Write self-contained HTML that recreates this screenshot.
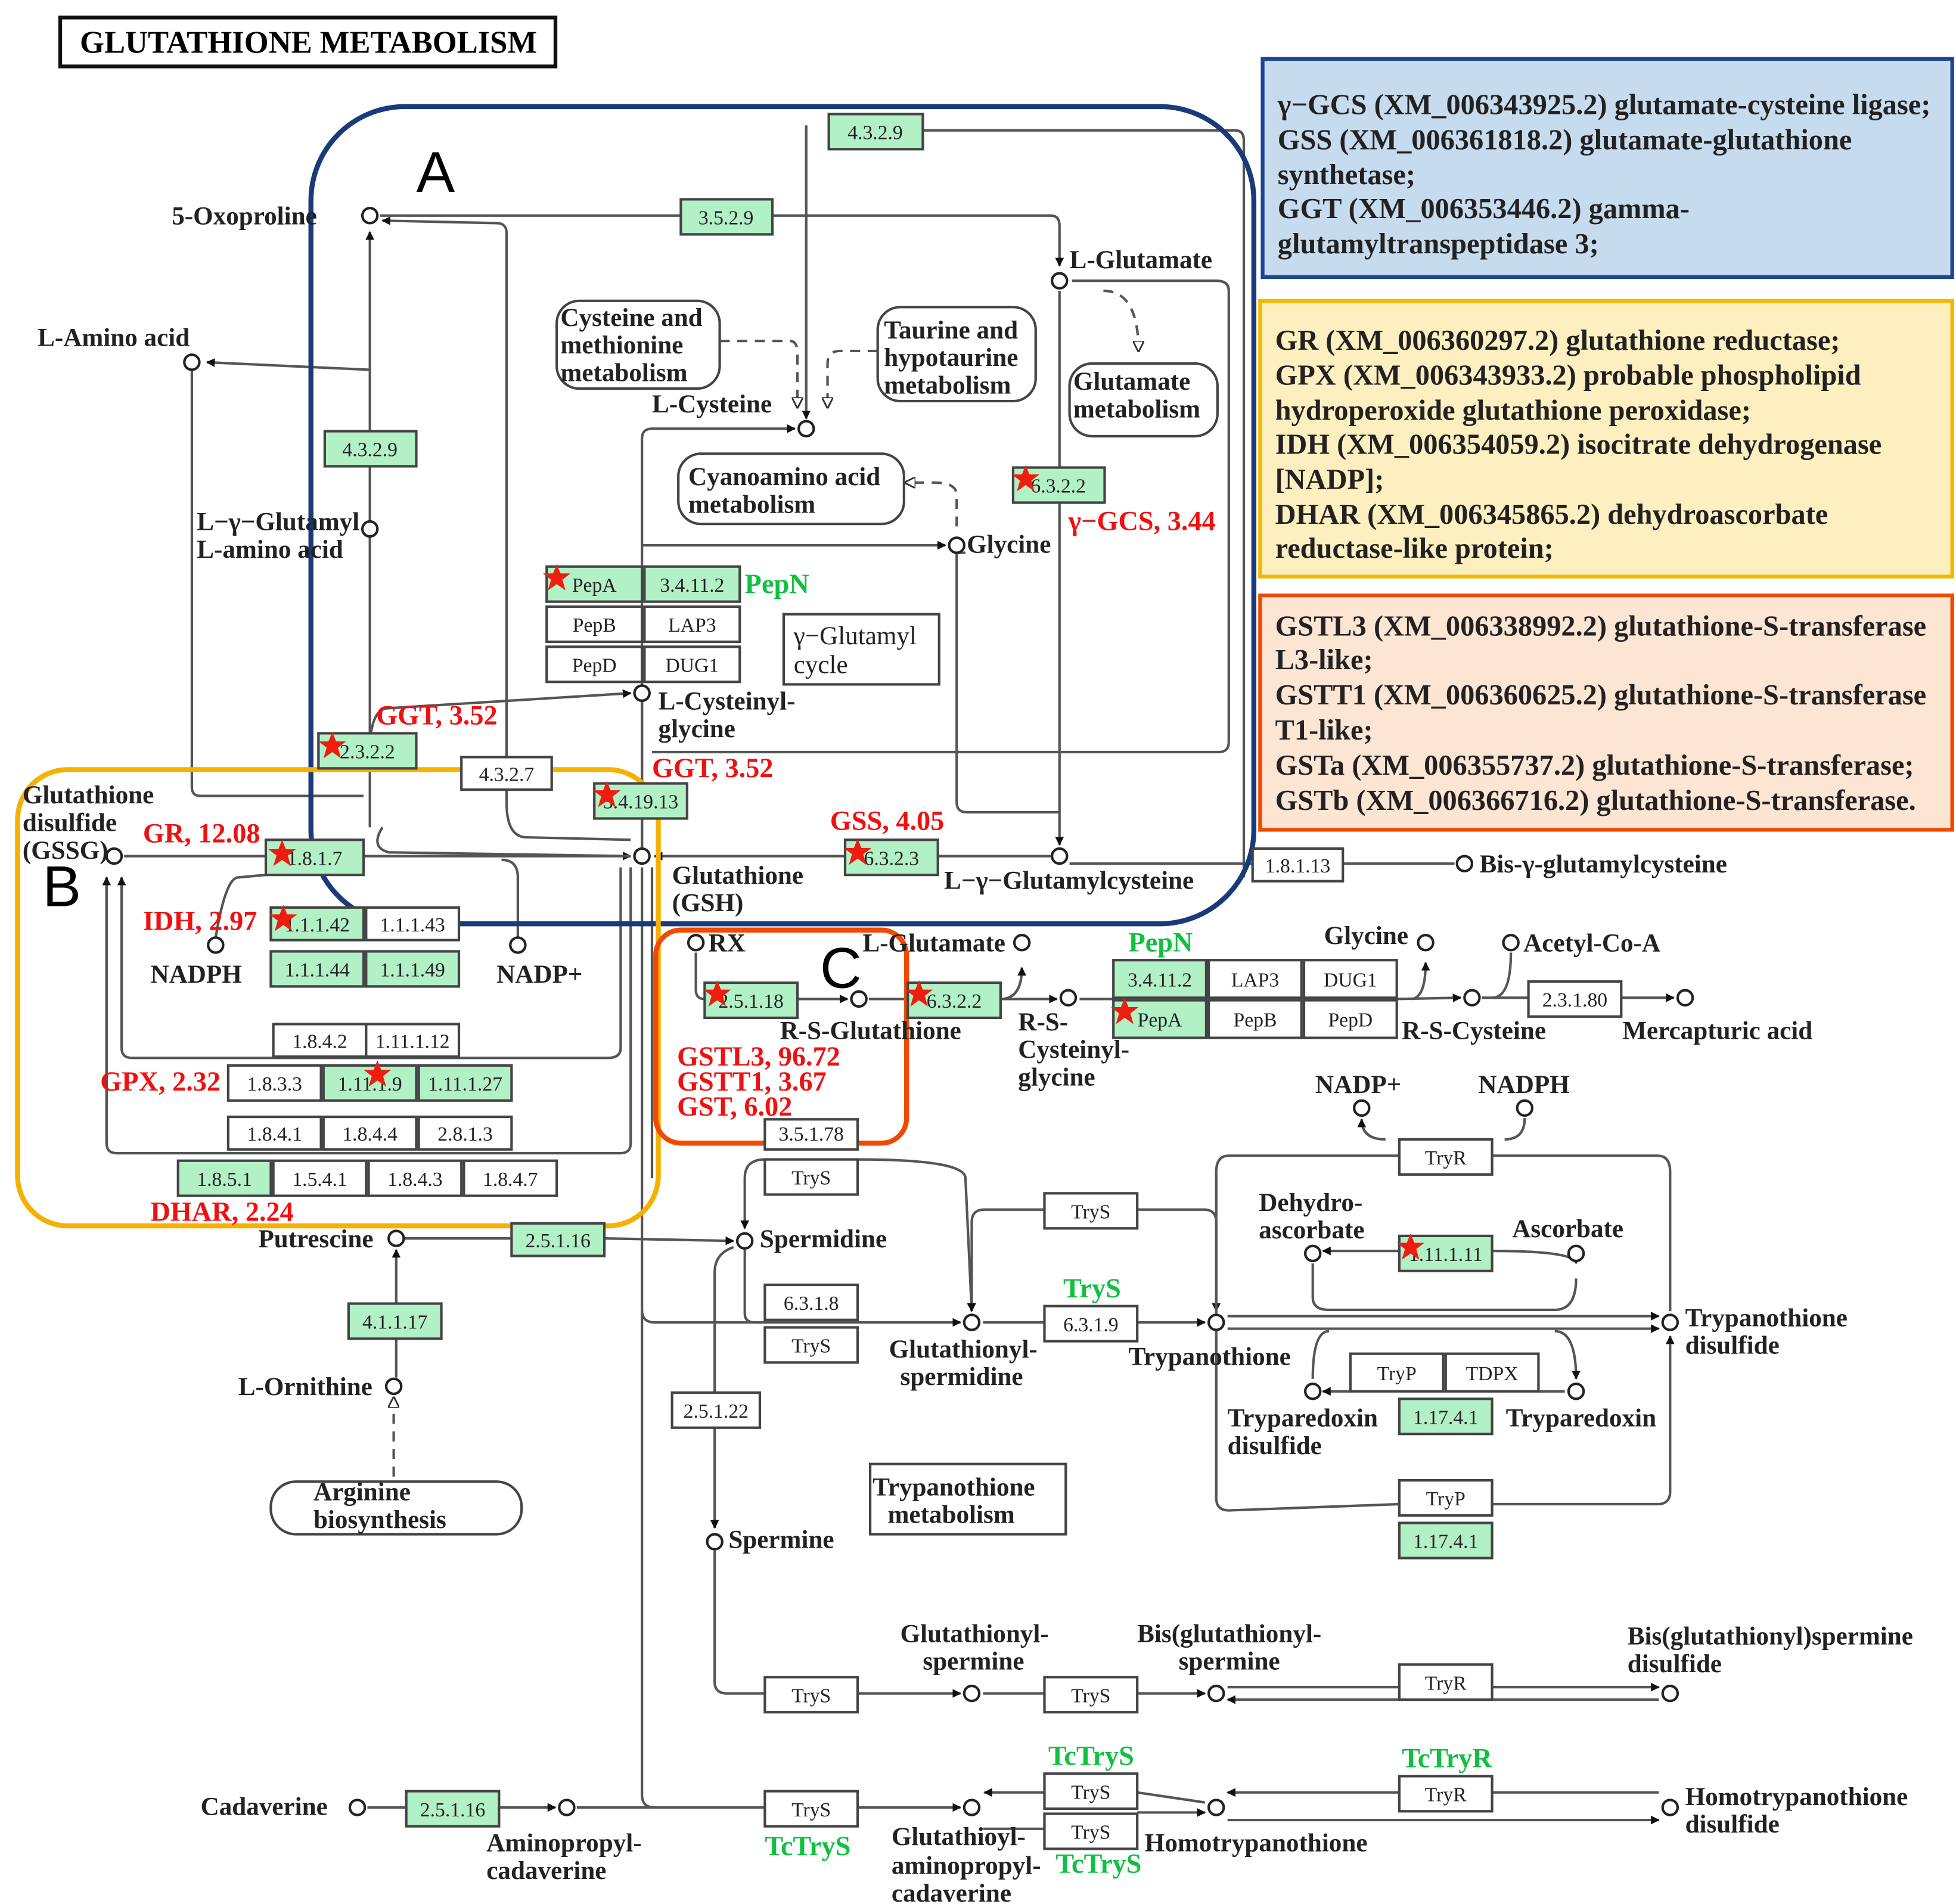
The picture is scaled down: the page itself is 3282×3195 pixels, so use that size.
<!DOCTYPE html>
<html><head><meta charset="utf-8"><style>
html,body{margin:0;padding:0;background:#fff}
svg{display:block}
text{font-family:"Liberation Serif",serif}
.c{font-weight:bold;font-size:20.5px;fill:#222}
.e{font-size:16px;fill:#222;text-anchor:middle}
.r{font-weight:bold;font-size:22px;fill:#f01010}
.g{font-weight:bold;font-size:22px;fill:#10c040}
.i{font-weight:bold;font-size:23px;fill:#222}
.l{fill:none;stroke:#555;stroke-width:2}
.d{fill:none;stroke:#555;stroke-width:2;stroke-dasharray:8 6}
</style></head><body>
<svg width="3282" height="3195" viewBox="0 0 1560 1519" preserveAspectRatio="none" xmlns="http://www.w3.org/2000/svg">
<defs>
<marker id="a" viewBox="0 0 10 10" refX="9" refY="5" markerWidth="7" markerHeight="7" orient="auto" markerUnits="userSpaceOnUse"><path d="M0,0 L10,5 L0,10z" fill="#111"/></marker>
<marker id="o" viewBox="0 0 10 10" refX="9" refY="5" markerWidth="9" markerHeight="9" orient="auto" markerUnits="userSpaceOnUse"><path d="M0,0 L10,5 L0,10z" fill="#fff" stroke="#333" stroke-width="1.5"/></marker>
<path id="st" d="M0,-11 L3,-3.5 L11,-3.5 L4.5,1.5 L7,10 L0,5 L-7,10 L-4.5,1.5 L-11,-3.5 L-3,-3.5z" fill="#f01c10"/>
</defs>
<rect width="1560" height="1519" fill="#fff"/>

<rect x="48" y="14" width="395" height="39" fill="#fff" stroke="#111" stroke-width="3"/>
<text x="246" y="42" text-anchor="middle" style="font-weight:bold;font-size:25px">GLUTATHIONE METABOLISM</text>

<rect x="1007" y="47" width="550" height="174" fill="#c7dbef" stroke="#1f4590" stroke-width="3"/>
<g class="i"><text x="1019" y="91">γ−GCS (XM_006343925.2) glutamate-cysteine ligase;</text>
<text x="1019" y="119">GSS (XM_006361818.2) glutamate-glutathione</text>
<text x="1019" y="147">synthetase;</text>
<text x="1019" y="174">GGT (XM_006353446.2) gamma-</text>
<text x="1019" y="202">glutamyltranspeptidase 3;</text></g>
<rect x="1005" y="240" width="552" height="220" fill="#fdefbf" stroke="#f5b800" stroke-width="3"/>
<g class="i"><text x="1017" y="279">GR (XM_006360297.2) glutathione reductase;</text>
<text x="1017" y="307">GPX (XM_006343933.2) probable phospholipid</text>
<text x="1017" y="335">hydroperoxide glutathione peroxidase;</text>
<text x="1017" y="362">IDH (XM_006354059.2) isocitrate dehydrogenase</text>
<text x="1017" y="390">[NADP];</text>
<text x="1017" y="418">DHAR (XM_006345865.2) dehydroascorbate</text>
<text x="1017" y="445">reductase-like protein;</text></g>
<rect x="1005" y="475" width="552" height="187" fill="#fde5d3" stroke="#f04a00" stroke-width="3"/>
<g class="i"><text x="1017" y="507">GSTL3 (XM_006338992.2) glutathione-S-transferase</text>
<text x="1017" y="534">L3-like;</text>
<text x="1017" y="562">GSTT1 (XM_006360625.2) glutathione-S-transferase</text>
<text x="1017" y="590">T1-like;</text>
<text x="1017" y="618">GSTa (XM_006355737.2) glutathione-S-transferase;</text>
<text x="1017" y="646">GSTb (XM_006366716.2) glutathione-S-transferase.</text></g>

<g class="l">
<path d="M404,640 L404,186 Q404,178 396,178 L305,176" marker-end="url(#a)"/>
<path d="M303,172 L838,172 Q845,172 845,180 L845,212" marker-end="url(#a)"/>
<path d="M643,100 L643,334" marker-end="url(#a)"/>
<path d="M736,104 L985,104 Q992,104 992,112 L992,700"/>
<path d="M295,660 L295,185" marker-end="url(#a)"/>
<path d="M295,295 L165,289" marker-end="url(#a)"/>
<path d="M153,296 L153,628 Q153,635 160,635 L290,635"/>
<path d="M512,676 L512,350 Q512,342 520,342 L634,342" marker-end="url(#a)"/>
<path d="M512,435 L754,435" marker-end="url(#a)"/>
<path d="M845,232 L845,674" marker-end="url(#a)"/>
<path d="M770,441 L763,441 L763,640 Q763,648 771,648 L845,648"/>
<path d="M855,224 L970,224 Q980,224 980,232 L980,592 Q980,600 972,600 L520,600"/>
<path d="M295,600 Q295,565 310,565 L503,553" marker-end="url(#a)"/>
<path d="M512,560 L512,676"/>
<path d="M305,660 Q295,676 310,680 L503,683" marker-end="url(#a)"/>
<path d="M404,640 Q404,668 420,668 L503,670"/>
<path d="M838,683 L522,683" marker-end="url(#a)"/>
<path d="M999,689 L853,689"/>
<path d="M1071,689 L1160,689"/>
<path d="M99,683 L503,683"/>
<path d="M172,748 Q180,700 190,700 L212,698"/>
<path d="M413,748 L413,700 Q413,686 400,686"/>
<path d="M85,700 L85,912 Q85,920 93,920 L495,920 Q503,920 503,912 L503,692"/>
<path d="M97,700 L97,836 Q97,844 105,844 L485,844 Q495,844 495,836 L495,692"/>
<path d="M85,912 L85,700" marker-end="url(#a)"/>
<path d="M97,836 L97,700" marker-end="url(#a)"/>
<path d="M512,692 L512,1432 Q512,1442 522,1442 L610,1442"/>
<path d="M512,1045 Q512,1055 522,1055 L766,1055" marker-end="url(#a)"/>
<path d="M520,692 L520,940"/>
<path d="M555,760 L555,790 Q555,797 562,797 L676,797" marker-end="url(#a)"/>
<path d="M693,797 L843,797" marker-end="url(#a)"/>
<path d="M798,797 Q815,797 815,772" marker-end="url(#a)"/>
<path d="M861,797 L888,797"/>
<path d="M1114,797 L1165,796" marker-end="url(#a)"/>
<path d="M1125,797 Q1137,797 1137,768" marker-end="url(#a)"/>
<path d="M1182,796 L1219,796 M1293,796 L1335,796" marker-end="url(#a)"/>
<path d="M1190,796 Q1205,796 1205,760"/>
<path d="M323,988 L408,988 M482,988 L585,990" marker-end="url(#a)"/>
<path d="M316,1099 L316,1068 M316,1040 L316,997" marker-end="url(#a)"/>
<path d="M314,1178 L314,1115" class="d" marker-end="url(#o)"/>
<path d="M610,925 Q594,925 594,940 L594,980" marker-end="url(#a)"/>
<path d="M684,925 Q770,925 770,940 L775,1046" marker-end="url(#a)"/>
<path d="M594,997 L594,1048 Q594,1055 602,1055 L610,1055"/>
<path d="M585,995 Q570,1000 570,1015 L570,1219" marker-end="url(#a)"/>
<path d="M570,1237 L570,1342 Q570,1351 580,1351 L610,1351"/>
<path d="M684,1351 L766,1351" marker-end="url(#a)"/>
<path d="M784,1351 L833,1351 M907,1351 L961,1351" marker-end="url(#a)"/>
<path d="M784,1055 L833,1055 M907,1055 L961,1055" marker-end="url(#a)"/>
<path d="M833,965 L785,965 Q775,965 775,975 L775,1046" marker-end="url(#a)"/>
<path d="M907,965 L960,965 Q970,965 970,975 L970,1046" marker-end="url(#a)"/>
<path d="M979,1050 L1323,1050" marker-end="url(#a)"/>
<path d="M979,1060 L1323,1060" marker-end="url(#a)"/>
<path d="M1116,922 L980,922 Q970,922 970,935 L970,1195 Q970,1205 980,1205 L1116,1200"/>
<path d="M1190,922 L1322,922 Q1332,922 1332,935 L1332,1046"/>
<path d="M1190,1200 L1322,1200 Q1332,1200 1332,1190 L1332,1066" marker-end="url(#a)"/>
<path d="M1105,909 Q1086,909 1086,893" marker-end="url(#a)"/>
<path d="M1200,909 Q1216,909 1216,892"/>
<path d="M1116,998 L1055,998" marker-end="url(#a)"/>
<path d="M1190,998 Q1257,998 1257,1008" marker-end="url(#a)"/>
<path d="M1047,1008 L1047,1035 Q1047,1045 1060,1045 L1240,1045 Q1257,1045 1257,1020"/>
<path d="M1077,1110 L1055,1110" marker-end="url(#a)"/>
<path d="M1227,1110 L1248,1110"/>
<path d="M1240,1062 Q1257,1062 1257,1100" marker-end="url(#a)"/>
<path d="M1060,1062 Q1047,1062 1047,1100"/>
<path d="M979,1346 L1323,1346" marker-end="url(#a)"/>
<path d="M1323,1356 L979,1356" marker-end="url(#a)"/>
<path d="M293,1442 L324,1442 M398,1442 L443,1442" marker-end="url(#a)"/>
<path d="M460,1442 L520,1442"/>
<path d="M684,1442 L766,1442" marker-end="url(#a)"/>
<path d="M833,1430 L785,1430" marker-end="url(#a)"/>
<path d="M784,1459 L833,1459 M907,1446 L961,1446" marker-end="url(#a)"/>
<path d="M907,1430 L961,1438"/>
<path d="M1323,1430 L979,1430" marker-end="url(#a)"/>
<path d="M979,1452 L1323,1452" marker-end="url(#a)"/>
</g>
<g class="d">
<path d="M574,272 L630,272 Q636,272 636,282 L636,325" marker-end="url(#o)"/>
<path d="M700,280 L670,280 Q660,280 660,290 L660,325" marker-end="url(#o)"/>
<path d="M880,232 Q908,232 908,280" marker-end="url(#o)"/>
<path d="M763,420 L763,395 Q763,385 745,385 L722,385" marker-end="url(#o)"/>
</g>

<rect x="248" y="85" width="752" height="652" rx="75" fill="none" stroke="#1a3a7a" stroke-width="4"/>
<rect x="14" y="614" width="511" height="364" rx="40" fill="none" stroke="#f5b000" stroke-width="4"/>
<rect x="523" y="742" width="200" height="170" rx="20" fill="none" stroke="#f04a00" stroke-width="4"/>
<text x="332" y="153" style="font-family:'Liberation Sans',sans-serif;font-size:46px">A</text>
<text x="34" y="723" style="font-family:'Liberation Sans',sans-serif;font-size:46px">B</text>
<text x="654" y="788" style="font-family:'Liberation Sans',sans-serif;font-size:46px">C</text>

<g fill="#fff" stroke="#444" stroke-width="2">
<rect x="444" y="240" width="130" height="70" rx="18"/>
<rect x="700" y="245" width="126" height="75" rx="18"/>
<rect x="853" y="290" width="118" height="58" rx="18"/>
<rect x="541" y="362" width="180" height="56" rx="18"/>
<rect x="625" y="490" width="124" height="56"/>
<rect x="216" y="1182" width="200" height="42" rx="20"/>
<rect x="694" y="1168" width="156" height="56"/>
</g>
<g class="c">
<text x="447" y="260">Cysteine and</text><text x="447" y="282">methionine</text><text x="447" y="304">metabolism</text>
<text x="705" y="270">Taurine and</text><text x="705" y="292">hypotaurine</text><text x="705" y="314">metabolism</text>
<text x="856" y="311">Glutamate</text><text x="856" y="333">metabolism</text>
<text x="549" y="387">Cyanoamino acid</text><text x="549" y="409">metabolism</text>
<text x="633" y="514" style="font-weight:normal">γ−Glutamyl</text><text x="633" y="537" style="font-weight:normal">cycle</text>
<text x="250" y="1197">Arginine</text><text x="250" y="1219">biosynthesis</text>
<text x="696" y="1193">Trypanothione</text><text x="708" y="1215">metabolism</text>
</g>

<g stroke="#444" stroke-width="2">
<rect x="661" y="91" width="75" height="28" fill="#b2f0c6"/>
<rect x="543" y="159" width="73" height="28" fill="#b2f0c6"/>
<rect x="259" y="344" width="73" height="28" fill="#b2f0c6"/>
<rect x="808" y="373" width="73" height="28" fill="#b2f0c6"/>
<rect x="436" y="452" width="76" height="28" fill="#b2f0c6"/>
<rect x="514" y="452" width="76" height="28" fill="#b2f0c6"/>
<rect x="436" y="484" width="76" height="28" fill="#fff"/>
<rect x="514" y="484" width="76" height="28" fill="#fff"/>
<rect x="436" y="516" width="76" height="28" fill="#fff"/>
<rect x="514" y="516" width="76" height="28" fill="#fff"/>
<rect x="254" y="585" width="78" height="28" fill="#b2f0c6"/>
<rect x="368" y="604" width="72" height="26" fill="#fff"/>
<rect x="474" y="625" width="74" height="28" fill="#b2f0c6"/>
<rect x="674" y="670" width="74" height="28" fill="#b2f0c6"/>
<rect x="999" y="677" width="72" height="26" fill="#fff"/>
<rect x="212" y="670" width="78" height="28" fill="#b2f0c6"/>
<rect x="216" y="724" width="74" height="26" fill="#b2f0c6"/>
<rect x="292" y="724" width="74" height="26" fill="#fff"/>
<rect x="216" y="759" width="74" height="28" fill="#b2f0c6"/>
<rect x="292" y="759" width="74" height="28" fill="#b2f0c6"/>
<rect x="218" y="817" width="74" height="26" fill="#fff"/>
<rect x="292" y="817" width="74" height="26" fill="#fff"/>
<rect x="182" y="850" width="74" height="28" fill="#fff"/>
<rect x="258" y="850" width="74" height="28" fill="#b2f0c6"/>
<rect x="334" y="850" width="74" height="28" fill="#b2f0c6"/>
<rect x="182" y="891" width="74" height="26" fill="#fff"/>
<rect x="258" y="891" width="74" height="26" fill="#fff"/>
<rect x="334" y="891" width="74" height="26" fill="#fff"/>
<rect x="142" y="926" width="74" height="28" fill="#b2f0c6"/>
<rect x="218" y="926" width="74" height="28" fill="#fff"/>
<rect x="294" y="926" width="74" height="28" fill="#fff"/>
<rect x="370" y="926" width="74" height="28" fill="#fff"/>
<rect x="408" y="976" width="74" height="26" fill="#b2f0c6"/>
<rect x="562" y="784" width="74" height="28" fill="#b2f0c6"/>
<rect x="724" y="784" width="74" height="28" fill="#b2f0c6"/>
<rect x="888" y="766" width="74" height="30" fill="#b2f0c6"/>
<rect x="964" y="766" width="74" height="30" fill="#fff"/>
<rect x="1040" y="766" width="74" height="30" fill="#fff"/>
<rect x="888" y="798" width="74" height="30" fill="#b2f0c6"/>
<rect x="964" y="798" width="74" height="30" fill="#fff"/>
<rect x="1040" y="798" width="74" height="30" fill="#fff"/>
<rect x="1219" y="783" width="74" height="28" fill="#fff"/>
<rect x="610" y="893" width="74" height="24" fill="#fff"/>
<rect x="610" y="925" width="74" height="28" fill="#fff"/>
<rect x="278" y="1040" width="74" height="28" fill="#b2f0c6"/>
<rect x="610" y="1025" width="74" height="28" fill="#fff"/>
<rect x="610" y="1059" width="74" height="28" fill="#fff"/>
<rect x="536" y="1111" width="70" height="28" fill="#fff"/>
<rect x="833" y="952" width="74" height="28" fill="#fff"/>
<rect x="833" y="1042" width="74" height="28" fill="#fff"/>
<rect x="1116" y="909" width="74" height="28" fill="#fff"/>
<rect x="1116" y="986" width="74" height="28" fill="#b2f0c6"/>
<rect x="1077" y="1080" width="74" height="30" fill="#fff"/>
<rect x="1153" y="1080" width="74" height="30" fill="#fff"/>
<rect x="1116" y="1116" width="74" height="28" fill="#b2f0c6"/>
<rect x="1116" y="1181" width="74" height="28" fill="#fff"/>
<rect x="1116" y="1215" width="74" height="28" fill="#b2f0c6"/>
<rect x="610" y="1338" width="74" height="28" fill="#fff"/>
<rect x="833" y="1338" width="74" height="28" fill="#fff"/>
<rect x="1116" y="1328" width="74" height="28" fill="#fff"/>
<rect x="324" y="1429" width="74" height="28" fill="#b2f0c6"/>
<rect x="610" y="1429" width="74" height="28" fill="#fff"/>
<rect x="833" y="1415" width="74" height="28" fill="#fff"/>
<rect x="833" y="1447" width="74" height="28" fill="#fff"/>
<rect x="1116" y="1417" width="74" height="28" fill="#fff"/>
</g>
<g class="e">
<text x="698" y="111">4.3.2.9</text><text x="579" y="179">3.5.2.9</text><text x="295" y="364">4.3.2.9</text>
<text x="844" y="393">6.3.2.2</text><text x="474" y="472">PepA</text><text x="552" y="472">3.4.11.2</text>
<text x="474" y="504">PepB</text><text x="552" y="504">LAP3</text><text x="474" y="536">PepD</text><text x="552" y="536">DUG1</text>
<text x="293" y="605">2.3.2.2</text><text x="404" y="623">4.3.2.7</text><text x="511" y="645">3.4.19.13</text>
<text x="711" y="690">6.3.2.3</text><text x="1035" y="696">1.8.1.13</text><text x="251" y="690">1.8.1.7</text>
<text x="253" y="743">1.1.1.42</text><text x="329" y="743">1.1.1.43</text><text x="253" y="779">1.1.1.44</text><text x="329" y="779">1.1.1.49</text>
<text x="255" y="836">1.8.4.2</text><text x="329" y="836">1.11.1.12</text>
<text x="219" y="870">1.8.3.3</text><text x="295" y="870">1.11.1.9</text><text x="371" y="870">1.11.1.27</text>
<text x="219" y="910">1.8.4.1</text><text x="295" y="910">1.8.4.4</text><text x="371" y="910">2.8.1.3</text>
<text x="179" y="946">1.8.5.1</text><text x="255" y="946">1.5.4.1</text><text x="331" y="946">1.8.4.3</text><text x="407" y="946">1.8.4.7</text>
<text x="445" y="995">2.5.1.16</text><text x="599" y="804">2.5.1.18</text><text x="761" y="804">6.3.2.2</text>
<text x="925" y="787">3.4.11.2</text><text x="1001" y="787">LAP3</text><text x="1077" y="787">DUG1</text>
<text x="925" y="819">PepA</text><text x="1001" y="819">PepB</text><text x="1077" y="819">PepD</text>
<text x="1256" y="803">2.3.1.80</text><text x="647" y="910">3.5.1.78</text><text x="647" y="945">TryS</text>
<text x="315" y="1060">4.1.1.17</text><text x="647" y="1045">6.3.1.8</text><text x="647" y="1079">TryS</text>
<text x="571" y="1131">2.5.1.22</text><text x="870" y="972">TryS</text><text x="870" y="1062">6.3.1.9</text>
<text x="1153" y="929">TryR</text><text x="1153" y="1006">1.11.1.11</text><text x="1114" y="1101">TryP</text><text x="1190" y="1101">TDPX</text>
<text x="1153" y="1136">1.17.4.1</text><text x="1153" y="1201">TryP</text><text x="1153" y="1235">1.17.4.1</text>
<text x="647" y="1358">TryS</text><text x="870" y="1358">TryS</text><text x="1153" y="1348">TryR</text>
<text x="361" y="1449">2.5.1.16</text><text x="647" y="1449">TryS</text><text x="870" y="1435">TryS</text><text x="870" y="1467">TryS</text><text x="1153" y="1437">TryR</text>
</g>

<g>
<use href="#st" x="818" y="382"/><use href="#st" x="444" y="461"/><use href="#st" x="265" y="595"/>
<use href="#st" x="484" y="634"/><use href="#st" x="684" y="680"/><use href="#st" x="225" y="681"/>
<use href="#st" x="226" y="733"/><use href="#st" x="301" y="857"/><use href="#st" x="572" y="793"/>
<use href="#st" x="733" y="793"/><use href="#st" x="897" y="807"/><use href="#st" x="1125" y="995"/>
</g>

<g fill="#fff" stroke="#222" stroke-width="2">
<circle cx="295" cy="172" r="6"/><circle cx="153" cy="289" r="6"/><circle cx="295" cy="422" r="6"/>
<circle cx="643" cy="342" r="6"/><circle cx="845" cy="224" r="6"/><circle cx="763" cy="435" r="6"/>
<circle cx="512" cy="553" r="6"/><circle cx="91" cy="683" r="6"/><circle cx="512" cy="683" r="6"/>
<circle cx="845" cy="683" r="6"/><circle cx="1168" cy="689" r="6"/><circle cx="172" cy="754" r="6"/>
<circle cx="413" cy="754" r="6"/><circle cx="555" cy="752" r="6"/><circle cx="815" cy="752" r="6"/>
<circle cx="685" cy="797" r="6"/><circle cx="852" cy="796" r="6"/><circle cx="1137" cy="752" r="6"/>
<circle cx="1205" cy="752" r="6"/><circle cx="1174" cy="796" r="6"/><circle cx="1344" cy="796" r="6"/>
<circle cx="316" cy="988" r="6"/><circle cx="594" cy="990" r="6"/><circle cx="314" cy="1106" r="6"/>
<circle cx="1086" cy="884" r="6"/><circle cx="1216" cy="884" r="6"/><circle cx="1047" cy="1000" r="6"/>
<circle cx="1257" cy="1000" r="6"/><circle cx="775" cy="1055" r="6"/><circle cx="970" cy="1055" r="6"/>
<circle cx="1332" cy="1055" r="6"/><circle cx="1047" cy="1110" r="6"/><circle cx="1257" cy="1110" r="6"/>
<circle cx="570" cy="1230" r="6"/><circle cx="775" cy="1351" r="6"/><circle cx="970" cy="1351" r="6"/>
<circle cx="1332" cy="1351" r="6"/><circle cx="285" cy="1442" r="6"/><circle cx="452" cy="1442" r="6"/>
<circle cx="775" cy="1442" r="6"/><circle cx="970" cy="1442" r="6"/><circle cx="1332" cy="1442" r="6"/>
</g>

<g class="c">
<text x="137" y="179">5-Oxoproline</text><text x="30" y="276">L-Amino acid</text>
<text x="157" y="423">L−γ−Glutamyl</text><text x="157" y="445">L-amino acid</text>
<text x="520" y="329">L-Cysteine</text><text x="853" y="214">L-Glutamate</text><text x="771" y="441">Glycine</text>
<text x="525" y="566">L-Cysteinyl-</text><text x="525" y="588">glycine</text>
<text x="18" y="641">Glutathione</text><text x="18" y="663">disulfide</text><text x="18" y="685">(GSSG)</text>
<text x="536" y="705">Glutathione</text><text x="536" y="727">(GSH)</text>
<text x="753" y="709">L−γ−Glutamylcysteine</text><text x="1180" y="696">Bis-γ-glutamylcysteine</text>
<text x="120" y="784">NADPH</text><text x="396" y="784">NADP+</text>
<text x="565" y="759">RX</text><text x="688" y="759">L-Glutamate</text>
<text x="622" y="829">R-S-Glutathione</text>
<text x="812" y="822">R-S-</text><text x="812" y="844">Cysteinyl-</text><text x="812" y="866">glycine</text>
<text x="1056" y="753">Glycine</text><text x="1215" y="759">Acetyl-Co-A</text>
<text x="1118" y="829">R-S-Cysteine</text><text x="1294" y="829">Mercapturic acid</text>
<text x="1049" y="872">NADP+</text><text x="1179" y="872">NADPH</text>
<text x="206" y="995">Putrescine</text><text x="606" y="995">Spermidine</text><text x="190" y="1113">L-Ornithine</text>
<text x="1004" y="966">Dehydro-</text><text x="1004" y="988">ascorbate</text><text x="1206" y="987">Ascorbate</text>
<text x="709" y="1083">Glutathionyl-</text><text x="718" y="1105">spermidine</text>
<text x="900" y="1089">Trypanothione</text>
<text x="1344" y="1058">Trypanothione</text><text x="1344" y="1080">disulfide</text>
<text x="979" y="1138">Tryparedoxin</text><text x="979" y="1160">disulfide</text><text x="1201" y="1138">Tryparedoxin</text>
<text x="581" y="1235">Spermine</text>
<text x="718" y="1310">Glutathionyl-</text><text x="736" y="1332">spermine</text>
<text x="907" y="1310">Bis(glutathionyl-</text><text x="940" y="1332">spermine</text>
<text x="1298" y="1312">Bis(glutathionyl)spermine</text><text x="1298" y="1334">disulfide</text>
<text x="160" y="1448">Cadaverine</text>
<text x="388" y="1477">Aminopropyl-</text><text x="388" y="1499">cadaverine</text>
<text x="711" y="1472">Glutathioyl-</text><text x="711" y="1495">aminopropyl-</text><text x="711" y="1517">cadaverine</text>
<text x="913" y="1477">Homotrypanothione</text>
<text x="1344" y="1440">Homotrypanothione</text><text x="1344" y="1462">disulfide</text>
</g>

<g class="r">
<text x="300" y="578">GGT, 3.52</text><text x="520" y="620">GGT, 3.52</text><text x="662" y="662">GSS, 4.05</text>
<text x="852" y="423">γ−GCS, 3.44</text><text x="114" y="672">GR, 12.08</text><text x="114" y="742">IDH, 2.97</text>
<text x="80" y="870">GPX, 2.32</text><text x="120" y="974">DHAR, 2.24</text>
<text x="540" y="850">GSTL3, 96.72</text><text x="540" y="870">GSTT1, 3.67</text><text x="540" y="890">GST, 6.02</text>
</g>
<g class="g">
<text x="594" y="473">PepN</text><text x="900" y="759">PepN</text><text x="848" y="1035">TryS</text>
<text x="836" y="1408">TcTryS</text><text x="1118" y="1410">TcTryR</text><text x="610" y="1480">TcTryS</text><text x="842" y="1494">TcTryS</text>
</g>
</svg>
</body></html>
